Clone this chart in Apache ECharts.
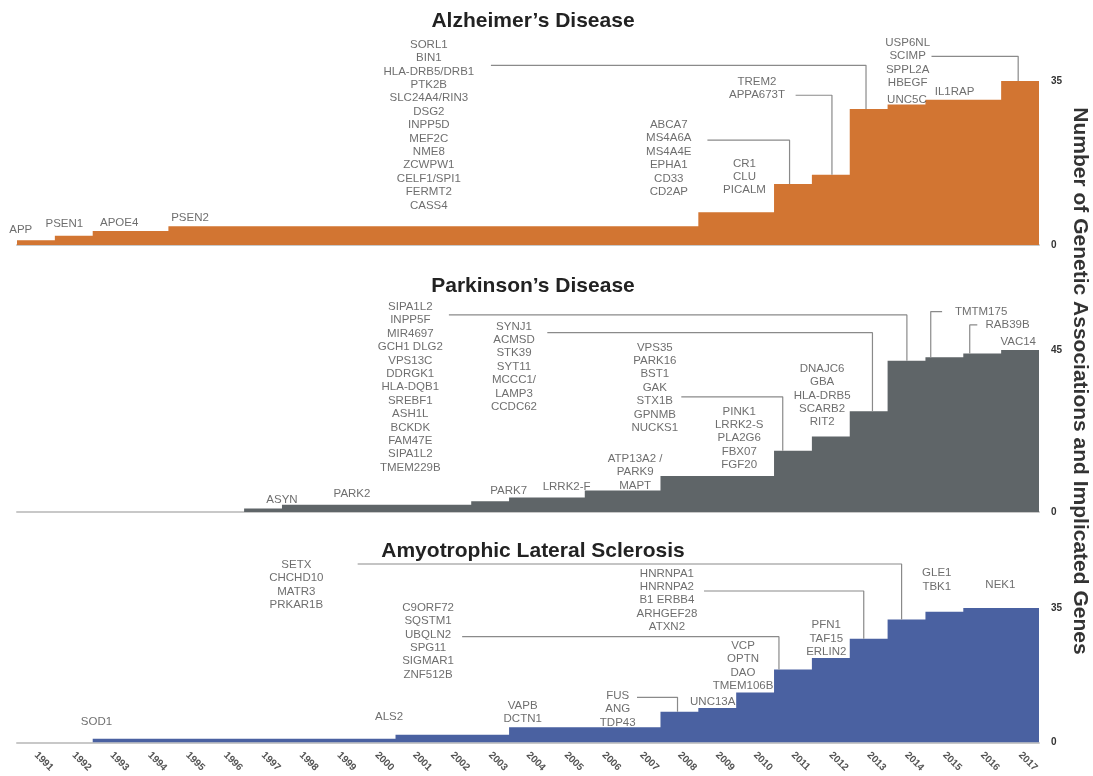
<!DOCTYPE html>
<html><head><meta charset="utf-8">
<script src="https://cdn.jsdelivr.net/npm/echarts@6/dist/echarts.min.js"></script>
<style>html,body{margin:0;padding:0;background:#fff}#c{width:1093px;height:776px}</style>
</head><body><div id="c"></div>
<script>
// ---------- data ----------
const years = [1991,1992,1993,1994,1995,1996,1997,1998,1999,2000,2001,2002,2003,2004,2005,2006,2007,2008,2009,2010,2011,2012,2013,2014,2015,2016,2017];
const yearLabels = years.map(String);

// cumulative number of associations / implicated genes per year
const adCounts  = [1,2,3,3,4,4,4,4,4,4,4,4,4,4,4,4,4,4,7,7,13,15,29,30,31,31,35];
const pdCounts  = [0,0,0,0,0,0,1,2,2,2,2,2,3,4,4,6,6,10,10,10,17,21,28,42,43,44,45];
const alsCounts = [0,0,1,1,1,1,1,1,1,1,2,2,2,4,4,4,4,8,9,13,19,22,27,32,34,35,35];
const axisMax = [35, 45, 35];

const titles = ['Alzheimer’s Disease', 'Parkinson’s Disease', 'Amyotrophic Lateral Sclerosis'];
const axisTitle = 'Number of Genetic Associations and Implicated Genes';

// gene annotations (text) and where they sit, in [year, count] units
const adGenes = [
  ['APP'], ['PSEN1'], ['APOE4'], ['PSEN2'],
  ['SORL1','BIN1','HLA-DRB5/DRB1','PTK2B','SLC24A4/RIN3','DSG2','INPP5D','MEF2C','NME8','ZCWPW1','CELF1/SPI1','FERMT2','CASS4'],
  ['ABCA7','MS4A6A','MS4A4E','EPHA1','CD33','CD2AP'],
  ['CR1','CLU','PICALM'],
  ['TREM2','APPA673T'],
  ['UNC5C'],
  ['USP6NL','SCIMP','SPPL2A','HBEGF'],
  ['IL1RAP']
];
const adGeneAt = [[1991.10,3.3],[1992.25,4.6],[1993.70,4.75],[1995.57,5.7],[2001.88,25.6],[2008.22,18.5],[2010.22,14.55],[2010.55,33.4],[2014.51,30.9],[2014.53,38.9],[2015.77,32.7]];
const adLeaders = [[2003.52,38.35,2013.43,29],[2011.57,31.96,2012.53,15],[2009.24,22.37,2011.41,13],[2015.16,40.27,2017.45,35]];

const pdGenes = [
  ['ASYN'], ['PARK2'], ['PARK7'], ['LRRK2-F'],
  ['SIPA1L2','INPP5F','MIR4697','GCH1 DLG2','VPS13C','DDRGK1','HLA-DQB1','SREBF1','ASH1L','BCKDK','FAM47E','SIPA1L2','TMEM229B'],
  ['SYNJ1','ACMSD','STK39','SYT11','MCCC1/','LAMP3','CCDC62'],
  ['VPS35','PARK16','BST1','GAK','STX1B','GPNMB','NUCKS1'],
  ['ATP13A2 /','PARK9','MAPT'],
  ['PINK1','LRRK2-S','PLA2G6','FBX07','FGF20'],
  ['DNAJC6','GBA','HLA-DRB5','SCARB2','RIT2'],
  ['TMTM175'], ['RAB39B'], ['VAC14']
];
const pdGeneAt = [[1998.0,3.4],[1999.85,5.1],[2003.99,5.8],[2005.52,7.0],[2001.39,34.65],[2004.13,40.36],[2007.85,34.57],[2007.33,11.1],[2010.08,20.5],[2012.27,32.4],[2016.47,55.66],[2017.17,51.96],[2017.45,47.3]];
const pdLeaders = [[2002.41,54.75,2014.51,42],[2005.01,49.8,2013.60,28],[2008.55,32.0,2011.23,17],[2015.44,55.66,2015.14,43],[2016.37,51.96,2016.17,44]];

const alsGenes = [
  ['SOD1'],
  ['SETX','CHCHD10','MATR3','PRKAR1B'],
  ['C9ORF72','SQSTM1','UBQLN2','SPG11','SIGMAR1','ZNF512B'],
  ['ALS2'],
  ['VAPB','DCTN1'],
  ['FUS','ANG','TDP43'],
  ['UNC13A'],
  ['VCP','OPTN','DAO','TMEM106B'],
  ['HNRNPA1','HNRNPA2','B1 ERBB4','ARHGEF28','ATXN2'],
  ['PFN1','TAF15','ERLIN2'],
  ['GLE1','TBK1'],
  ['NEK1']
];
const alsGeneAt = [[1993.1,5.4],[1998.38,41.0],[2001.86,26.4],[2000.83,6.7],[2004.36,7.9],[2006.87,8.7],[2009.38,10.6],[2010.18,20.0],[2008.17,37.0],[2012.38,27.1],[2015.3,42.3],[2016.98,41.0]];
const alsLeaders = [[2000.0,46.45,2014.37,32],[2002.76,27.53,2011.13,19],[2009.15,39.42,2013.37,27],[2007.38,11.76,2008.45,8]];

// ---------- styling ----------
const FONT = '"Liberation Sans", Arial, Helvetica, sans-serif';
const fills = ['#D27532', '#5F6568', '#4A61A1'];
const grids = [
  {left: 17, right: 54, top: 81, height: 164},
  {left: 17, right: 54, top: 350, height: 162},
  {left: 17, right: 54, top: 608, height: 134.5}
];
const countsList = [adCounts, pdCounts, alsCounts];
const genesList = [adGenes, pdGenes, alsGenes];
const geneAtList = [adGeneAt, pdGeneAt, alsGeneAt];
const leadersList = [adLeaders, pdLeaders, alsLeaders];
const titleTops = [6, 271, 536];

function stepData(counts) {
  const d = years.map((y, i) => [y, counts[i]]);
  d.push([years[years.length - 1] + 1, counts[counts.length - 1]]);
  return d;
}

const xAxis = grids.map((g, i) => ({
  type: 'value', gridIndex: i, min: years[0], max: years[years.length - 1] + 1, position: 'bottom',
  axisLine: {show: true, lineStyle: {color: '#c8c8c8', width: 2}},
  axisTick: {show: false}, axisLabel: {show: false}, splitLine: {show: false}
}));
xAxis.push({
  type: 'category', gridIndex: 2, data: yearLabels, boundaryGap: true, position: 'bottom',
  axisLine: {show: false}, axisTick: {show: false}, splitLine: {show: false},
  axisLabel: {rotate: -45, margin: 11, fontSize: 10, fontWeight: 'bold', color: '#555', fontFamily: FONT, interval: 0}
});

const yAxis = grids.map((g, i) => ({
  type: 'value', gridIndex: i, min: 0, max: axisMax[i], interval: axisMax[i], position: 'right',
  axisLine: {show: false}, axisTick: {show: false}, splitLine: {show: false},
  axisLabel: {margin: 12, fontSize: 10, fontWeight: 'bold', color: '#333', fontFamily: FONT}
}));

const series = [];
grids.forEach((g, i) => {
  series.push({
    type: 'line', xAxisIndex: i, yAxisIndex: i, data: stepData(countsList[i]), step: 'end',
    symbol: 'none', showSymbol: false, lineStyle: {width: 0, opacity: 0},
    areaStyle: {color: fills[i], opacity: 1}, silent: true, z: 2
  });
  leadersList[i].forEach(L => {
    series.push({
      type: 'line', xAxisIndex: i, yAxisIndex: i, clip: false, silent: true, z: 3,
      data: [[L[0], L[1]], [L[2], L[1]], [L[2], L[3]]],
      symbol: 'none', showSymbol: false, lineStyle: {color: '#8a8a8a', width: 1.2}
    });
  });
  series.push({
    type: 'scatter', xAxisIndex: i, yAxisIndex: i, clip: false, silent: true, z: 4,
    symbolSize: 0,
    data: genesList[i].map((lines, k) => ({name: lines.join('\n'), value: geneAtList[i][k]})),
    label: {
      show: true, position: [0, 0], align: 'center', verticalAlign: 'middle',
      formatter: p => p.name, fontSize: 11.5, lineHeight: 13.4, color: '#4a4a4a', fontFamily: FONT
    }
  });
});

const chart = echarts.init(document.getElementById('c'), null, {renderer: 'canvas'});
chart.setOption({
  animation: false,
  backgroundColor: '#fff',
  title: titles.map((t, i) => ({
    text: t, left: 528, top: titleTops[i], textAlign: 'center',
    textStyle: {fontSize: 21, fontWeight: 'bold', color: '#222', fontFamily: FONT}
  })),
  grid: grids,
  xAxis: xAxis,
  yAxis: yAxis,
  series: series,
  graphic: [{
    type: 'text', x: 1080, y: 381, rotation: -Math.PI / 2, silent: true,
    style: {text: axisTitle, font: 'bold 21px ' + FONT, fill: '#333', align: 'center', verticalAlign: 'middle'}
  }]
});
</script>
</body></html>
